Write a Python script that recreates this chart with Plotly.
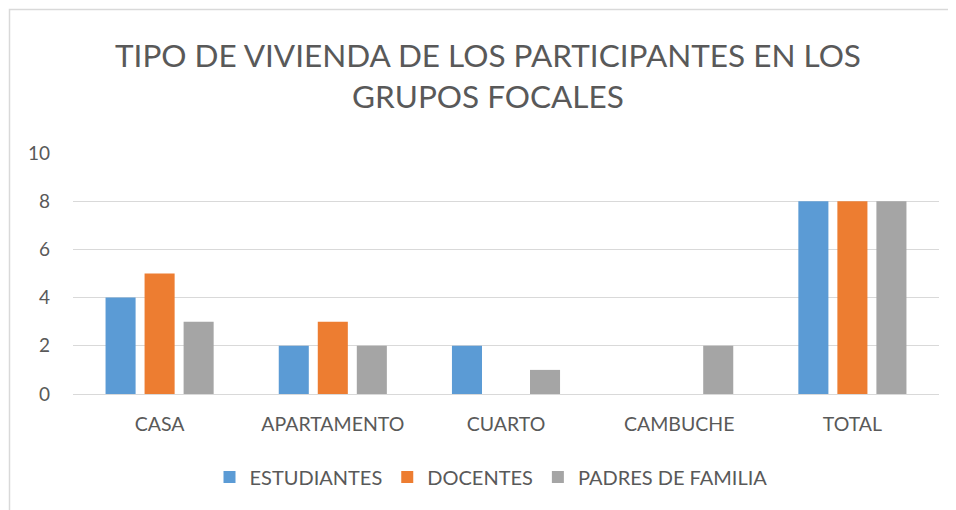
import plotly.graph_objects as go

categories = ["CASA", "APARTAMENTO", "CUARTO", "CAMBUCHE", "TOTAL"]
estudiantes = [4, 2, 2, 0, 8]
docentes = [5, 3, 0, 0, 8]
padres = [3, 2, 1, 2, 8]
series_names = ["ESTUDIANTES", "DOCENTES", "PADRES DE FAMILIA"]
colors = ["#5B9BD5", "#ED7D31", "#A5A5A5"]
y_ticks = [0, 2, 4, 6, 8, 10]
title_text = "TIPO DE VIVIENDA DE LOS PARTICIPANTES EN LOS<br>GRUPOS FOCALES"

FONT = "Lato"
TXT = "#595959"

fig = go.Figure()
for name, vals, col in zip(series_names, [estudiantes, docentes, padres], colors):
    fig.add_trace(go.Bar(x=categories, y=vals, name=name, marker=dict(color=col, line=dict(width=0))))

OFF = 8  # page body margin
W, H = 956 - OFF, 510 - OFF
L, R, T, B = 73 - OFF, 17, 153 - OFF, 116
pw = W - L - R
ph = H - T - B

def px_x(x):
    return (x - OFF - L) / pw

def px_y(y):
    return (H - B - (y - OFF)) / ph

fig.update_layout(
    width=W, height=H,
    margin=dict(l=L, r=R, t=T, b=B, pad=0),
    paper_bgcolor="white", plot_bgcolor="white",
    barmode="group", bargap=0.324, bargroupgap=0.23,
    font=dict(family=FONT, color=TXT, size=19),
    showlegend=True,
    legend=dict(orientation="h", x=px_x(491), xanchor="center",
                y=px_y(477), yanchor="middle",
                font=dict(size=20, color=TXT), itemwidth=30, traceorder="normal",
                itemsizing="constant"),
    xaxis=dict(showgrid=False, showline=False, tickfont=dict(size=19.5, color=TXT),
               ticks="", ticklabelstandoff=16),
    yaxis=dict(range=[0, 10], tickvals=y_ticks, showgrid=True, gridcolor="#D9D9D9",
               gridwidth=1, zeroline=True, zerolinecolor="#D9D9D9", zerolinewidth=1,
               showline=False, ticks="", tickfont=dict(size=19, color=TXT),
               ticklabelstandoff=22),
)

fig.add_annotation(text=title_text, xref="paper", yref="paper",
                   x=px_x(488), y=px_y(75), xanchor="center", yanchor="middle",
                   showarrow=False, font=dict(family=FONT, size=31.5, color=TXT),
                   align="center")

fig.add_shape(type="rect", xref="paper", yref="paper",
              x0=px_x(9.5), x1=1.2, y0=-1.0, y1=px_y(9.5),
              line=dict(color="#D9D9D9", width=1.5), fillcolor="rgba(0,0,0,0)", layer="below")

fig.write_html("out.html")
